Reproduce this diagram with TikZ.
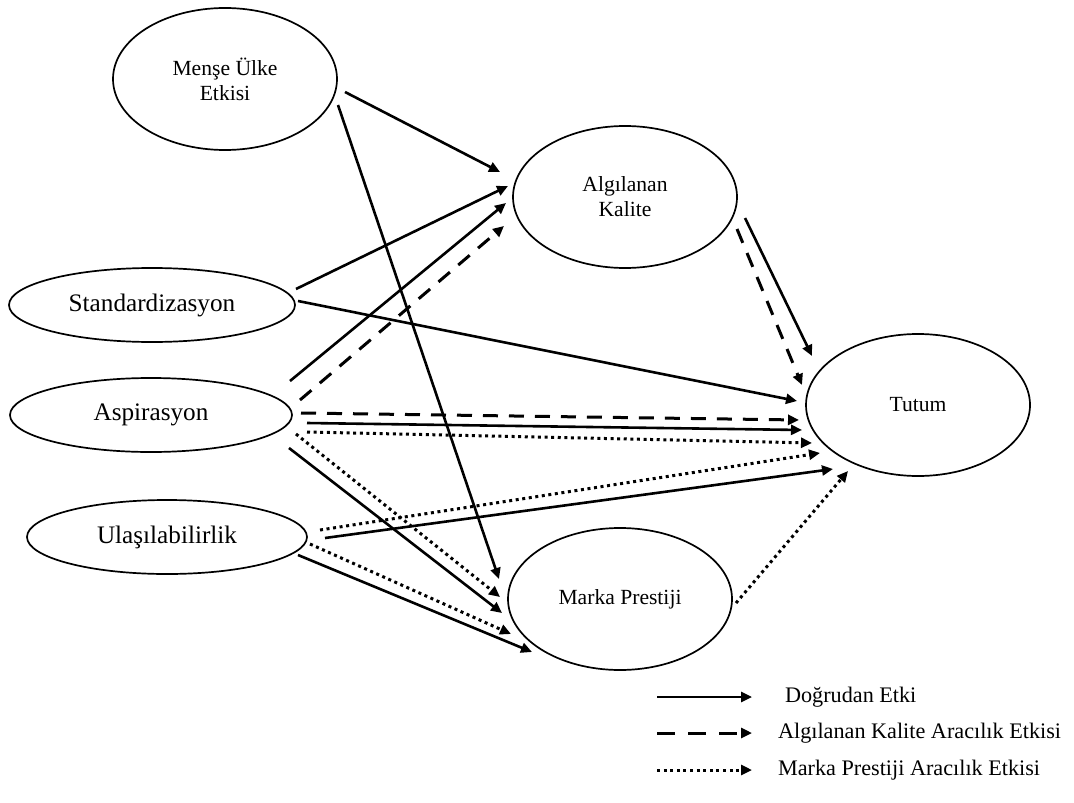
\documentclass[tikz,border=0pt]{standalone}
\usepackage{fontspec}
\setmainfont{Liberation Serif}
\usetikzlibrary{arrows.meta,shapes.geometric}
\begin{document}
\begin{tikzpicture}[x=0.5pt,y=-0.5pt,
  oval/.style={draw, ellipse, line width=0.85pt, inner sep=0pt, align=center},
  big/.style={oval, minimum width=112pt, minimum height=71pt, font=\fontsize{10.8}{12.5}\selectfont},
  wide/.style={oval, minimum height=37pt, font=\fontsize{12.6}{15}\selectfont},
  conn/.style={line width=1.3pt, -{Triangle[length=5.5pt,width=5pt]}},
  direct/.style={conn},
  dashedconn/.style={conn, line width=1.5pt, dash pattern=on 7.5pt off 5.5pt},
  dottedconn/.style={conn, line width=1.5pt, dash pattern=on 1.5pt off 1.8pt},
  legendtext/.style={anchor=west, font=\fontsize{11.1}{13}\selectfont}]
\useasboundingbox (0,0) rectangle (1074,802);

% nodes
\node[big] (mense) at (225,79) {Menşe Ülke\\Etkisi};
\node[big] (alg) at (625,197) {Algılanan\\Kalite};
\node[wide, minimum width=143pt] (std) at (152,305) {Standardizasyon};
\node[wide, minimum width=141pt] (asp) at (151,415) {Aspirasyon};
\node[wide, minimum width=140pt] (ula) at (167,537) {Ulaşılabilirlik};
\node[big] (tut) at (918,405) {Tutum};
\node[big] (mp) at (620,599) {Marka Prestiji};

% connectors
\draw[direct] ([shift={(120,13)}]mense.center) -- ([shift={(-125,-25)}]alg.center);
\draw[direct] ([shift={(113,26)}]mense.center) -- ([shift={(-121,-20)}]mp.center);
\draw[direct] ([shift={(144,-16)}]std.center) -- ([shift={(-117,-11)}]alg.center);
\draw[direct] ([shift={(146,-4)}]std.center) -- ([shift={(-121,-4)}]tut.center);
\draw[direct] ([shift={(139,-34)}]asp.center) -- ([shift={(-119,6)}]alg.center);
\draw[dashedconn] ([shift={(149,-15)}]asp.center) -- ([shift={(-121,29)}]alg.center);
\draw[dashedconn] ([shift={(150,-2)}]asp.center) -- ([shift={(-119,15)}]tut.center);
\draw[direct] ([shift={(156,8)}]asp.center) -- ([shift={(-116,25)}]tut.center);
\draw[dottedconn] ([shift={(156,17)}]asp.center) -- ([shift={(-106,38)}]tut.center);
\draw[dottedconn] ([shift={(145,19)}]asp.center) -- ([shift={(-120,-2)}]mp.center);
\draw[direct] ([shift={(138,33)}]asp.center) -- ([shift={(-118,14)}]mp.center);
\draw[dottedconn] ([shift={(153,-7)}]ula.center) -- ([shift={(-98,48)}]tut.center);
\draw[direct] ([shift={(158,1)}]ula.center) -- ([shift={(-85,64)}]tut.center);
\draw[dottedconn] ([shift={(143,7)}]ula.center) -- ([shift={(-109,35)}]mp.center);
\draw[direct] ([shift={(131,18)}]ula.center) -- ([shift={(-88,53)}]mp.center);
\draw[dottedconn] ([shift={(116,4)}]mp.center) -- ([shift={(-70,66)}]tut.center);
\draw[direct] ([shift={(120,21)}]alg.center) -- ([shift={(-106,-49)}]tut.center);
\draw[dashedconn] ([shift={(112,32)}]alg.center) -- ([shift={(-116,-20)}]tut.center);

% legend
\coordinate (l1a) at (657,697); \coordinate (l1b) at (752,697);
\coordinate (l2a) at (657,733); \coordinate (l2b) at (752,733);
\coordinate (l3a) at (657,770); \coordinate (l3b) at (752,770);
\draw[direct] (l1a) -- (l1b);
\draw[dashedconn, dash pattern=on 9pt off 6.5pt] (l2a) -- (l2b);
\draw[dottedconn] (l3a) -- (l3b);
\node[legendtext] (t1) at (778,697) {Doğrudan Etki};
\node[legendtext] (t2) at (771,733) {Algılanan Kalite Aracılık Etkisi};
\node[legendtext] (t3) at (771,770) {Marka Prestiji Aracılık Etkisi};
\end{tikzpicture}
\end{document}
